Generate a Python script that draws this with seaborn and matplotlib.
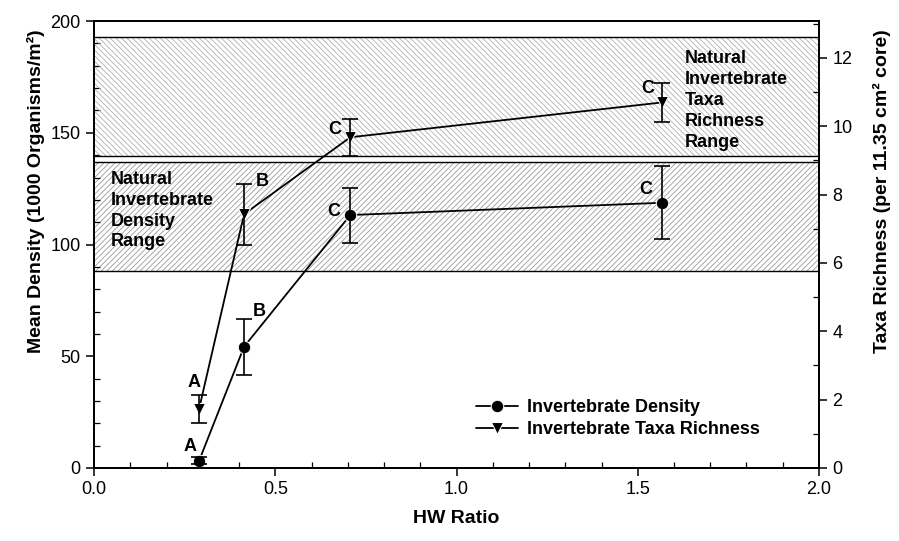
import numpy as np
import pandas as pd
import seaborn as sns
import matplotlib.pyplot as plt
from matplotlib.ticker import MultipleLocator

# data
hw_ratio = [0.29, 0.414, 0.707, 1.568]
density = [3.3, 54.3, 113.2, 118.7]
density_err = [1.5, 12.5, 12.3, 16.4]
density_letters = ['A', 'B', 'C', 'C']
taxa = [1.74, 7.43, 9.68, 10.70]
taxa_err = [0.41, 0.89, 0.54, 0.56]
taxa_letters = ['A', 'B', 'C', 'C']

density_range = (88.3, 137.0)
taxa_range = (9.12, 12.62)

# letter offsets from the point (pixels, x right / y up)
density_off = [(-9, 14), (15, 35), (-17, 4), (-17, 13)]
taxa_off = [(-5, 26), (18, 33), (-16, 8), (-15, 14)]

sns.set_style('ticks')
plt.rcParams['font.family'] = ['Liberation Sans', 'DejaVu Sans']
plt.rcParams['hatch.linewidth'] = 0.6
for k in ['text.color', 'axes.labelcolor', 'xtick.color', 'ytick.color', 'axes.edgecolor']:
    plt.rcParams[k] = 'black'

df_d = pd.DataFrame({'hw': hw_ratio, 'val': density})
df_t = pd.DataFrame({'hw': hw_ratio, 'val': taxa})

fig = plt.figure(figsize=(8.99, 5.41), dpi=100)
ax = fig.add_axes([0.1046, 0.135, 0.8064, 0.826])
ax2 = ax.twinx()

# natural ranges
ax.axhspan(*density_range, facecolor='none', edgecolor='#9a9a9a', hatch='//////', lw=0, zorder=0)
for v in density_range:
    ax.axhline(v, color='black', lw=1.0, zorder=1)
ax2.axhspan(*taxa_range, facecolor='none', edgecolor='#b0b0b0', hatch='\\\\\\\\\\\\', lw=0, zorder=0)
for v in taxa_range:
    ax2.axhline(v, color='black', lw=1.0, zorder=1)

# density series
sns.lineplot(data=df_d, x='hw', y='val', ax=ax, color='black', marker='o', markersize=9,
             lw=1.3, label='Invertebrate Density', legend=False, zorder=3)
ax.errorbar(hw_ratio, density, yerr=density_err, fmt='none', ecolor='black',
            elinewidth=1.2, capsize=6, capthick=1.2, zorder=3)

# taxa richness series
sns.lineplot(data=df_t, x='hw', y='val', ax=ax2, color='black', marker='v', markersize=9,
             lw=1.3, label='Invertebrate Taxa Richness', legend=False, zorder=3)
ax2.errorbar(hw_ratio, taxa, yerr=taxa_err, fmt='none', ecolor='black',
             elinewidth=1.2, capsize=6, capthick=1.2, zorder=3)

# significance letters
for x, y, s, (dx, dy) in zip(hw_ratio, density, density_letters, density_off):
    ax.annotate(s, (x, y), xytext=(dx * 0.72, dy * 0.72), textcoords='offset points',
                fontsize=13, fontweight='bold', ha='center', va='center')
for x, y, s, (dx, dy) in zip(hw_ratio, taxa, taxa_letters, taxa_off):
    ax2.annotate(s, (x, y), xytext=(dx * 0.72, dy * 0.72), textcoords='offset points',
                 fontsize=13, fontweight='bold', ha='center', va='center')

ax.text(0.045, 133, 'Natural\nInvertebrate\nDensity\nRange', fontsize=13, fontweight='bold',
        ha='left', va='top', linespacing=1.3)
ax2.text(1.63, 12.23, 'Natural\nInvertebrate\nTaxa\nRichness\nRange', fontsize=13,
         fontweight='bold', ha='left', va='top', linespacing=1.3)

# axes
ax.set_xlim(0, 2.0)
ax.set_ylim(0, 200)
ax2.set_ylim(0, 13.08)
ax.xaxis.set_major_locator(MultipleLocator(0.5))
ax.xaxis.set_minor_locator(MultipleLocator(0.1))
ax.yaxis.set_major_locator(MultipleLocator(50))
ax.yaxis.set_minor_locator(MultipleLocator(10))
ax2.yaxis.set_major_locator(MultipleLocator(2))
ax2.yaxis.set_minor_locator(MultipleLocator(1))
ax.xaxis.set_major_formatter(plt.FormatStrFormatter('%.1f'))

for a in (ax, ax2):
    for sp in a.spines.values():
        sp.set_visible(True)
        sp.set_linewidth(1.3)
        sp.set_color('black')
ax.tick_params(which='major', direction='out', length=6, width=1.1, labelsize=13)
ax.tick_params(which='minor', direction='in', length=4, width=0.9)
ax2.tick_params(which='major', direction='out', length=6, width=1.1, labelsize=13)
ax2.tick_params(which='minor', direction='in', length=4, width=0.9)

ax.set_xlabel('HW Ratio', fontsize=14, fontweight='bold')
ax.xaxis.set_label_coords(0.5, -0.094)
ax.set_ylabel('Mean Density (1000 Organisms/m²)', fontsize=14, fontweight='bold')
ax.yaxis.set_label_coords(-0.068, 0.62)
ax2.set_ylabel('Taxa Richness (per 11.35 cm² core)', fontsize=14, fontweight='bold')
ax2.yaxis.set_label_coords(1.074, 0.62)

h1, l1 = ax.get_legend_handles_labels()
h2, l2 = ax2.get_legend_handles_labels()
ax2.legend(h1 + h2, l1 + l2, loc='upper left', bbox_to_anchor=(0.505, 0.19), frameon=False,
           prop={'weight': 'bold', 'size': 13}, handlelength=2.3, handletextpad=0.5,
           labelspacing=0.25)

fig.savefig('out.png', dpi=100)
